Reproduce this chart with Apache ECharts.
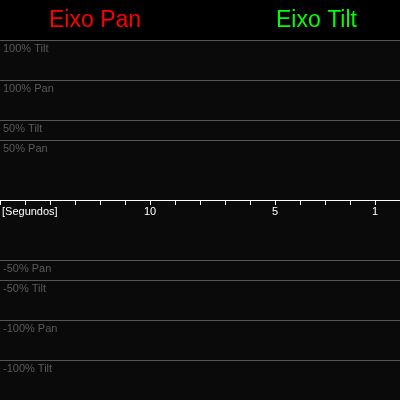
<!DOCTYPE html>
<html><head><meta charset="utf-8">
<script src="https://cdn.jsdelivr.net/npm/echarts@6/dist/echarts.min.js"></script>
<style>html,body{margin:0;padding:0;background:#000}#c{width:400px;height:400px}</style>
</head><body><div id="c"></div>
<script>
var titles = ['Eixo Pan', 'Eixo Tilt'];
var xMin = 0, xMax = 16;
var xLabels = {16: '[Segundos]', 10: '10', 5: '5', 1: '1'};
var panTicks = [-100, -50, 0, 50, 100];
var tiltTicks = [-100, -50, 0, 50, 100];
var panSeries = [];
var tiltSeries = [];

var chart = echarts.init(document.getElementById('c'));
var font = 'Liberation Sans, Arial, sans-serif';
function yAx(gi, name) {
  return {
    type: 'value', gridIndex: gi, min: -100, max: 100, interval: 50, position: 'left',
    axisLine: {show: false}, axisTick: {show: false},
    splitLine: {show: true, lineStyle: {color: '#555', width: 1}},
    axisLabel: {
      inside: true, margin: 3, verticalAlign: 'top', padding: [3, 0, 0, 0],
      color: '#5a5a5a', fontSize: 11, fontFamily: font,
      showMinLabel: true, showMaxLabel: true,
      formatter: function (v) { return v === 0 ? '' : v + '% ' + name; }
    }
  };
}
var g = {left: 0, right: 0, outerBoundsMode: 'none', containLabel: false};
chart.setOption({
  backgroundColor: '#000',
  animation: false,
  graphic: [{type: 'rect', z: -100, silent: true, shape: {x: 0, y: 40, width: 400, height: 360}, style: {fill: '#0a0a0a'}}],
  title: [
    {text: titles[0], left: 44, top: 4, textStyle: {color: '#ff0000', fontSize: 23, fontWeight: 'normal', fontFamily: font}},
    {text: titles[1], left: 271, top: 4, textStyle: {color: '#00ff00', fontSize: 23, fontWeight: 'normal', fontFamily: font}}
  ],
  grid: [
    Object.assign({top: 40, bottom: 40}, g),
    Object.assign({top: 80, bottom: 80}, g),
    Object.assign({top: 0, bottom: 200}, g)
  ],
  xAxis: [
    {type: 'value', gridIndex: 0, min: xMin, max: xMax, inverse: true, show: false},
    {type: 'value', gridIndex: 1, min: xMin, max: xMax, inverse: true, show: false},
    {type: 'value', gridIndex: 2, min: xMin, max: xMax, interval: 1, inverse: true, position: 'bottom',
     axisLine: {show: true, onZero: false, lineStyle: {color: '#fff', width: 1}},
     axisTick: {show: true, length: 5, inside: false, lineStyle: {color: '#fff'}},
     splitLine: {show: false},
     axisLabel: {show: true, color: '#fff', fontSize: 11, fontFamily: font, margin: 6,
       showMinLabel: true, showMaxLabel: true, alignMaxLabel: 'left', hideOverlap: false,
       rich: {s: {color: '#fff', fontSize: 11, fontFamily: font, padding: [0, 0, 0, 2]}},
       formatter: function (v) { return v === xMax ? '{s|' + xLabels[v] + '}' : (xLabels[v] || ''); }}}
  ],
  yAxis: [yAx(0, 'Tilt'), yAx(1, 'Pan'),
    {type: 'value', gridIndex: 2, min: 0, max: 1, show: false}],
  series: [
    {type: 'line', xAxisIndex: 0, yAxisIndex: 0, data: tiltSeries, lineStyle: {color: '#00ff00'}, showSymbol: false},
    {type: 'line', xAxisIndex: 1, yAxisIndex: 1, data: panSeries, lineStyle: {color: '#ff0000'}, showSymbol: false}
  ]
});
</script></body></html>
